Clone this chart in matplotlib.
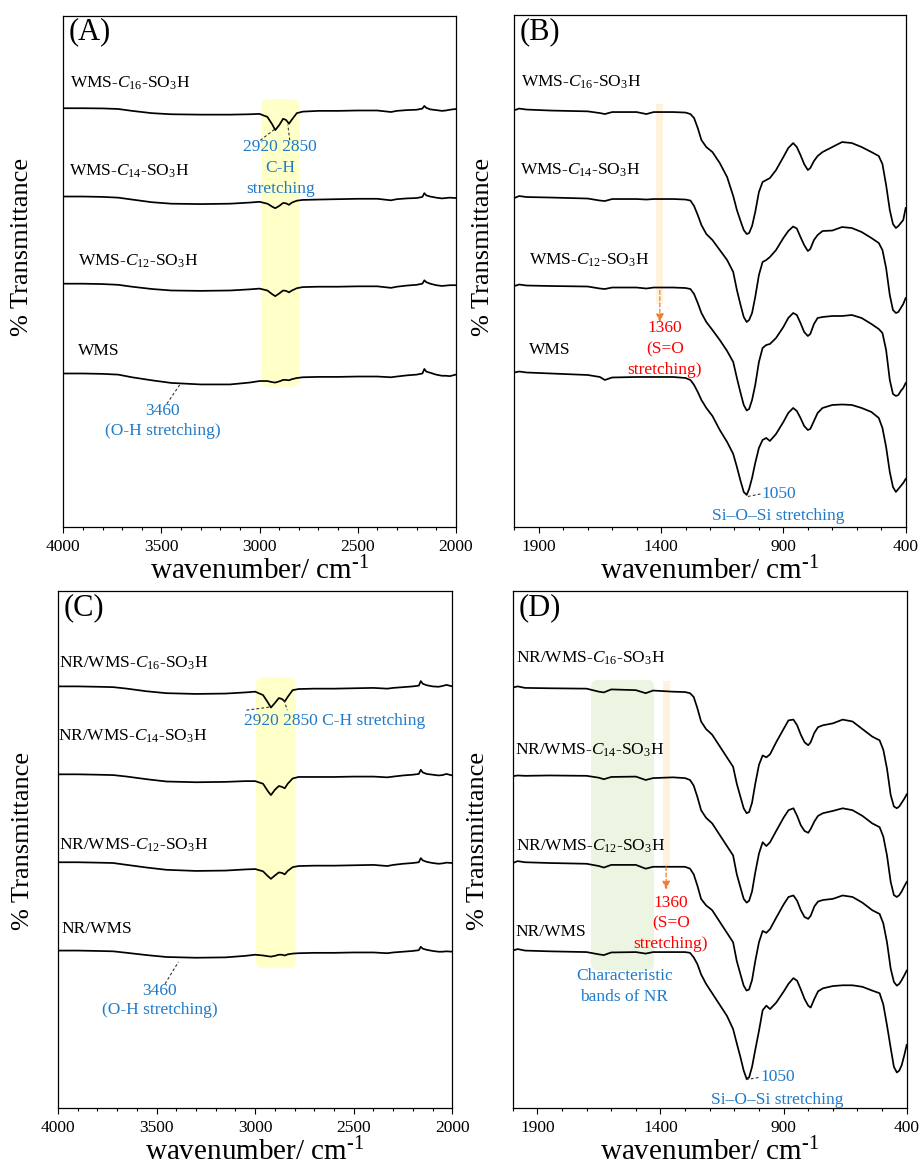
import matplotlib.pyplot as plt
from matplotlib.patches import FancyBboxPatch, Rectangle

plt.rcParams['font.family'] = ['Liberation Serif', 'DejaVu Serif']
plt.rcParams['mathtext.fontset'] = 'custom'
plt.rcParams['mathtext.rm'] = 'Liberation Serif'
plt.rcParams['mathtext.it'] = 'Liberation Serif:italic'

BLUE = '#1f7ac9'
RED = '#ff0000'
ORANGE = '#ed7d31'

# ---- data (transmittance in arbitrary units, stacked) ----
wn_high = [4000, 3900, 3800, 3720, 3650, 3550, 3450, 3300, 3150, 3050,
           3000, 2960, 2935, 2920, 2900, 2880, 2865, 2850, 2835, 2810,
           2780, 2700, 2600, 2500, 2400, 2330, 2300, 2250, 2200, 2170,
           2160, 2150, 2130, 2100, 2070, 2050, 2030, 2000]

a_c16 = [1113, 1113, 1112.5, 1111, 1106, 1100, 1097, 1096, 1096, 1097,
         1098, 1090, 1070, 1055, 1068, 1085, 1082, 1072, 1083, 1100,
         1104, 1106, 1106, 1107, 1107, 1103, 1106, 1108, 1109, 1112,
         1119, 1114, 1110, 1108, 1106, 1107, 1109, 1111]
a_c14 = [879, 879, 878, 876, 871, 864, 860, 859, 860, 863,
         865, 860, 852, 848, 854, 862, 861, 857, 863, 868,
         870, 871, 872, 873, 873, 869, 872, 874, 875, 878,
         888, 882, 879, 876, 874, 875, 876, 875]
a_c12 = [648, 648, 647, 645, 640, 634, 630, 629, 630, 633,
         635, 630, 620, 615, 622, 630, 629, 625, 630, 636,
         639, 640, 640, 641, 641, 637, 640, 643, 645, 648,
         657, 652, 648, 644, 642, 643, 644, 644]
a_wms = [410, 410, 409, 407, 400, 392, 385, 381, 381, 386,
         390, 390, 387, 386, 389, 393, 393, 392, 395, 398,
         400, 401, 401, 402, 402, 400, 402, 405, 407, 410,
         422, 415, 412, 407, 404, 404, 403, 407]

c_c16 = [1118, 1118, 1117, 1116, 1112, 1105, 1100, 1098, 1099, 1102,
         1104, 1095, 1075, 1062, 1074, 1087, 1085, 1078, 1090, 1108,
         1111, 1112, 1112, 1113, 1114, 1112, 1114, 1116, 1118, 1120,
         1132, 1125, 1121, 1118, 1117, 1119, 1122, 1118]
c_c14 = [885, 885, 884, 883, 879, 872, 866, 864, 865, 867,
         867, 860, 840, 830, 844, 854, 852, 848, 860, 874,
         878, 878, 878, 879, 879, 877, 879, 882, 884, 886,
         897, 890, 886, 884, 882, 883, 886, 882]
c_c12 = [652, 652, 651, 650, 645, 638, 632, 629, 630, 633,
         634, 628, 615, 608, 617, 625, 624, 620, 629, 639,
         642, 643, 643, 644, 645, 642, 645, 648, 650, 652,
         663, 657, 653, 650, 648, 649, 651, 650]
c_wms = [418, 418, 417, 416, 412, 406, 401, 399, 400, 404,
         407, 405, 403, 402, 404, 407, 407, 405, 408, 410,
         411, 412, 412, 413, 413, 411, 413, 415, 417, 419,
         428, 423, 420, 417, 415, 415, 416, 415]

wn_low = [2000, 1980, 1950, 1850, 1700, 1650, 1630, 1600, 1500, 1460,
          1430, 1350, 1300, 1280, 1265, 1250, 1235, 1215, 1190, 1160,
          1130, 1105, 1090, 1075, 1062, 1050, 1040, 1028, 1015, 1000,
          985, 970, 955, 930, 900, 880, 860, 845, 830, 815,
          800, 790, 775, 760, 740, 700, 660, 620, 580, 540,
          510, 495, 480, 465, 452, 440, 430, 420, 410, 400]

b_c16 = [417.3, 419, 418, 417, 416.2, 414.5, 413.5, 415.5, 415.5, 413.5,
         415.5, 415.5, 415, 413.5, 409.5, 399.5, 387.5, 380.5, 375.5, 364.5,
         350.5, 331.5, 317.5, 306.5, 297.5, 293.5, 294.5, 301.5, 315.5, 335.5,
         345.5, 347.5, 349.5, 357.5, 370.5, 379.5, 384.5, 380.5, 372.5, 363.5,
         357.5, 359.5, 366.5, 371.5, 375.5, 380.5, 385.5, 384.5, 380.5, 375.5,
         371.5, 363.5, 342.5, 317.5, 303.5, 299.5, 301.5, 304.5, 307.5, 319.5]
b_c14 = [329.5, 331.5, 330.5, 330, 329, 327, 326.5, 328.5, 328.5, 328,
         328.5, 328.5, 328, 327, 321.5, 312.5, 302.5, 293.5, 287.5, 277.5,
         267.5, 255.5, 237.5, 222.5, 210.5, 205.5, 207.5, 214.5, 230.5, 252.5,
         265.5, 267.5, 270.5, 277.5, 289.5, 296.5, 301, 299, 290.5, 282.5,
         276.5, 278.5, 287.5, 292.5, 296.5, 297, 300.5, 299.5, 295.5, 289.5,
         284.5, 277.5, 259.5, 232.5, 217.5, 214.5, 215.5, 219.5, 223.5, 229.5]
b_c12 = [241.5, 243, 242, 241.5, 241, 239, 238.5, 240, 240, 239,
         240, 240, 239.5, 238.5, 233.5, 224.5, 214.5, 205.5, 197.5, 187.5,
         176.5, 165.5, 149.5, 134.5, 122.5, 117, 118.5, 127.5, 142.5, 165.5,
         179.5, 182.5, 183.5, 189.5, 200.5, 209.5, 214.5, 212.5, 204.5, 195.5,
         191.5, 193.5, 203.5, 209.5, 210.5, 211.5, 211.5, 212.5, 209.5, 203.5,
         198.5, 194.5, 177.5, 147.5, 133.5, 131.5, 132.5, 136.5, 139.5, 144.5]
b_wms = [155, 156, 155, 154, 152.5, 150.5, 147.5, 150, 150.5, 150.5,
         150.5, 150.5, 149.5, 147.5, 142.5, 135.5, 127.5, 119.5, 111.5, 97.5,
         85.5, 73.5, 60.5, 46.5, 35.5, 32.5, 38.5, 49.5, 64.5, 79.5,
         87.5, 89.5, 86.5, 93.5, 105.5, 114.5, 119.5, 116.5, 109.5, 101.5,
         97.5, 98.5, 106.5, 114.5, 119.5, 122.5, 123, 122.5, 119.5, 115.5,
         109.5, 99.5, 80.5, 55.5, 40.5, 35.5, 38.5, 41.5, 44.5, 48.5]

d_c16 = [1115, 1118, 1114, 1113, 1112, 1104, 1102, 1110, 1108, 1100,
         1107, 1104, 1103, 1100, 1090, 1060, 1025, 1005, 990, 960,
         930, 905, 860, 825, 795, 782, 785, 810, 860, 910,
         935, 930, 938, 970, 1005, 1028, 1030, 1015, 990, 970,
         962, 970, 995, 1010, 1015, 1020, 1030, 1025, 1005, 985,
         975, 950, 900, 830, 800, 795, 800, 810, 820, 832]
d_c14 = [880, 882, 881, 882, 881, 876, 872, 878, 879, 870,
         875, 877, 875, 870, 855, 825, 790, 770, 755, 725,
         695, 670, 620, 585, 555, 545, 550, 575, 625, 675,
         705, 695, 705, 735, 770, 790, 795, 775, 750, 735,
         730, 740, 760, 775, 782, 788, 795, 790, 775, 755,
         745, 720, 670, 600, 565, 560, 565, 575, 588, 600]
d_c12 = [650, 655, 652, 650, 648, 642, 638, 645, 645, 635,
         640, 640, 640, 635, 620, 590, 555, 538, 525, 495,
         465, 440, 390, 355, 325, 312, 315, 340, 390, 440,
         470, 465, 475, 505, 540, 560, 564, 550, 525, 507,
         502, 510, 535, 548, 552, 555, 564, 560, 545, 525,
         515, 490, 440, 370, 335, 325, 330, 340, 352, 365]
d_wms = [418, 422, 418, 416, 414, 408, 406, 413, 414, 410,
         414, 414, 414, 412, 400, 382, 355, 330, 305, 275,
         245, 210, 172, 135, 100, 78, 82, 110, 155, 205,
         260, 272, 263, 280, 309, 330, 345, 338, 315, 290,
         272, 267, 290, 310, 318, 324, 326, 326, 322, 312,
         305, 275, 220, 160, 110, 95, 100, 115, 140, 168]

labels_wms = ['WMS-$\\mathit{C}_{\\mathit{16}}$-SO$_3$H', 'WMS-$\\mathit{C}_{\\mathit{14}}$-SO$_3$H',
              'WMS-$\\mathit{C}_{\\mathit{12}}$-SO$_3$H', 'WMS']
labels_nr = ['NR/WMS-$\\mathit{C}_{\\mathit{16}}$-SO$_3$H', 'NR/WMS-$\\mathit{C}_{\\mathit{14}}$-SO$_3$H',
             'NR/WMS-$\\mathit{C}_{\\mathit{12}}$-SO$_3$H', 'NR/WMS']

FIG_W, FIG_H = 922, 1169
fig = plt.figure(figsize=(FIG_W / 100, FIG_H / 100), dpi=100)
ax_a = fig.add_axes([0.0687, 0.5488, 0.4256, 0.4377])
ax_b = fig.add_axes([0.5578, 0.5488, 0.4245, 0.4383])
ax_c = fig.add_axes([0.0629, 0.0519, 0.4277, 0.4423])
ax_d = fig.add_axes([0.5561, 0.0519, 0.4273, 0.4423])


def setup(ax, xlim, ylim, majors, letter, ylab_pos):
    ax.set_xlim(*xlim)
    ax.set_ylim(*ylim)
    ax.set_xticks(majors)
    lo, hi = min(xlim), max(xlim)
    ax.set_xticks(list(range(lo, hi + 1, 100)), minor=True)
    ax.set_yticks([])
    ax.tick_params(axis='x', which='major', direction='out', length=4.5, width=0.8,
                   labelsize=12.5, pad=4)
    ax.tick_params(axis='x', which='minor', direction='out', length=2.5, width=0.8)
    for s in ax.spines.values():
        s.set_linewidth(0.9)
    ax.set_xlabel('wavenumber/ cm$^{\\text{-1}}$', fontsize=21, labelpad=1)
    ax.set_ylabel('% Transmittance', fontsize=19)
    ax.yaxis.label.set(ha='center', va='center', rotation_mode='anchor')
    ax.yaxis.set_label_coords(*ylab_pos)
    ax.text(0.014, 0.968, letter, transform=ax.transAxes,
            fontsize=22, ha='left', va='center')


def rounded_box(ax, x0, x1, y0, y1, color, r_px=7):
    bb = ax.get_position()
    xl, yl = ax.get_xlim(), ax.get_ylim()
    sx = bb.width * FIG_W / abs(xl[1] - xl[0])
    sy = bb.height * FIG_H / abs(yl[1] - yl[0])
    r = r_px / sx
    box = FancyBboxPatch((min(x0, x1), min(y0, y1)), abs(x1 - x0), abs(y1 - y0),
                         boxstyle=f'round,pad=0,rounding_size={r}',
                         mutation_aspect=sx / sy, facecolor=color,
                         edgecolor='none', zorder=0)
    ax.add_patch(box)


def dashed(ax, xs, ys, color='#333333'):
    ax.plot(xs, ys, ls=(0, (2.5, 2)), color=color, lw=0.8, zorder=3)


def arrow_down(ax, x, y0, y1):
    ax.annotate('', xy=(x, y1), xytext=(x, y0),
                arrowprops=dict(arrowstyle='-|>,head_length=0.5,head_width=0.22',
                                color=ORANGE, lw=0.9, ls=(0, (3, 2)),
                                shrinkA=0, shrinkB=0))


def curves(ax, x, series, labels, label_pos):
    for y in series:
        ax.plot(x, y, color='black', lw=1.25, zorder=2)
    for lab, (lx, ly) in zip(labels, label_pos):
        ax.text(lx, ly, lab, fontsize=12.5, ha='left', va='center')


# ---- (A) ----
setup(ax_a, (4000, 2000), (2, 1358), [4000, 3500, 3000, 2500, 2000], '(A)', (-0.105, 0.548))
rounded_box(ax_a, 2991, 2797, 375, 1137, '#ffffc8')
curves(ax_a, wn_high, [a_c16, a_c14, a_c12, a_wms], labels_wms,
       [(3966, 1178), (3969, 945), (3927, 708), (3923, 470)])
dashed(ax_a, [2996, 2924], [1028, 1057])
dashed(ax_a, [2846, 2856], [1028, 1070])
ax_a.text(2894, 1010, '2920 2850', color=BLUE, fontsize=12.5, ha='center', va='center')
ax_a.text(2894, 955, 'C-H', color=BLUE, fontsize=12.5, ha='center', va='center')
ax_a.text(2894, 900, 'stretching', color=BLUE, fontsize=12.5, ha='center', va='center')
dashed(ax_a, [3472, 3404], [330, 382])
ax_a.text(3493, 310, '3460', color=BLUE, fontsize=12.5, ha='center', va='center')
ax_a.text(3493, 257, '(O-H stretching)', color=BLUE, fontsize=12.5, ha='center', va='center')

# ---- (B) ----
setup(ax_b, (2000, 400), (0, 512.5), [1900, 1400, 900, 400], '(B)', (-0.079, 0.548))
ax_b.add_patch(Rectangle((1392, 223.5), 27, 200, facecolor='#fff2dc', edgecolor='none', zorder=0))
curves(ax_b, wn_low, [b_c16, b_c14, b_c12, b_wms], labels_wms,
       [(1971, 445), (1975, 357), (1941, 267), (1940, 177)])
arrow_down(ax_b, 1405, 237, 205)
ax_b.text(1385, 199.5, '1360', color=RED, fontsize=12.5, ha='center', va='center')
ax_b.text(1385, 178.5, '(S=O', color=RED, fontsize=12.5, ha='center', va='center')
ax_b.text(1385, 157.5, 'stretching)', color=RED, fontsize=12.5, ha='center', va='center')
dashed(ax_b, [1045, 993], [31, 33.5])
ax_b.text(990, 33.5, '1050', color=BLUE, fontsize=12.5, ha='left', va='center')
ax_b.text(922, 11.5, 'Si\u2013O\u2013Si stretching', color=BLUE, fontsize=12.5, ha='center', va='center')

# ---- (C) ----
setup(ax_c, (4000, 2000), (0, 1370), [4000, 3500, 3000, 2500, 2000], '(C)', (-0.09, 0.518))
rounded_box(ax_c, 2996, 2795, 372, 1142, '#ffffc8')
curves(ax_c, wn_high, [c_c16, c_c14, c_c12, c_wms], labels_nr,
       [(3993, 1180), (3998, 987), (3993, 697), (3981, 475)])
dashed(ax_c, [3044, 2929], [1055, 1063])
dashed(ax_c, [2854, 2837], [1082, 1055])
ax_c.text(3057, 1025, '2920 2850 C-H stretching', color=BLUE, fontsize=12.5, ha='left', va='center')
dashed(ax_c, [3457, 3389], [330, 388])
ax_c.text(3486, 310, '3460', color=BLUE, fontsize=12.5, ha='center', va='center')
ax_c.text(3486, 260, '(O-H stretching)', color=BLUE, fontsize=12.5, ha='center', va='center')

# ---- (D) ----
setup(ax_d, (2000, 400), (0, 1370), [1900, 1400, 900, 400], '(D)', (-0.089, 0.518))
rounded_box(ax_d, 1682, 1426, 365, 1135, '#ebf5e1')
ax_d.add_patch(Rectangle((1361, 640), 27, 491, facecolor='#fff2dc', edgecolor='none', zorder=0))
curves(ax_d, wn_low, [d_c16, d_c14, d_c12, d_wms], labels_nr,
       [(1987, 1192), (1991, 948), (1987, 693), (1987, 468)])
arrow_down(ax_d, 1377, 640, 579)
ax_d.text(1358, 545, '1360', color=RED, fontsize=12.5, ha='center', va='center')
ax_d.text(1358, 490, '(S=O', color=RED, fontsize=12.5, ha='center', va='center')
ax_d.text(1360, 435, 'stretching)', color=RED, fontsize=12.5, ha='center', va='center')
ax_d.text(1546, 350, 'Characteristic', color=BLUE, fontsize=12.5, ha='center', va='center')
ax_d.text(1546, 295, 'bands of NR', color=BLUE, fontsize=12.5, ha='center', va='center')
dashed(ax_d, [1053, 998], [76, 82])
ax_d.text(995, 82, '1050', color=BLUE, fontsize=12.5, ha='left', va='center')
ax_d.text(927, 22, 'Si\u2013O\u2013Si stretching', color=BLUE, fontsize=12.5, ha='center', va='center')

fig.savefig('out.png', dpi=100)
